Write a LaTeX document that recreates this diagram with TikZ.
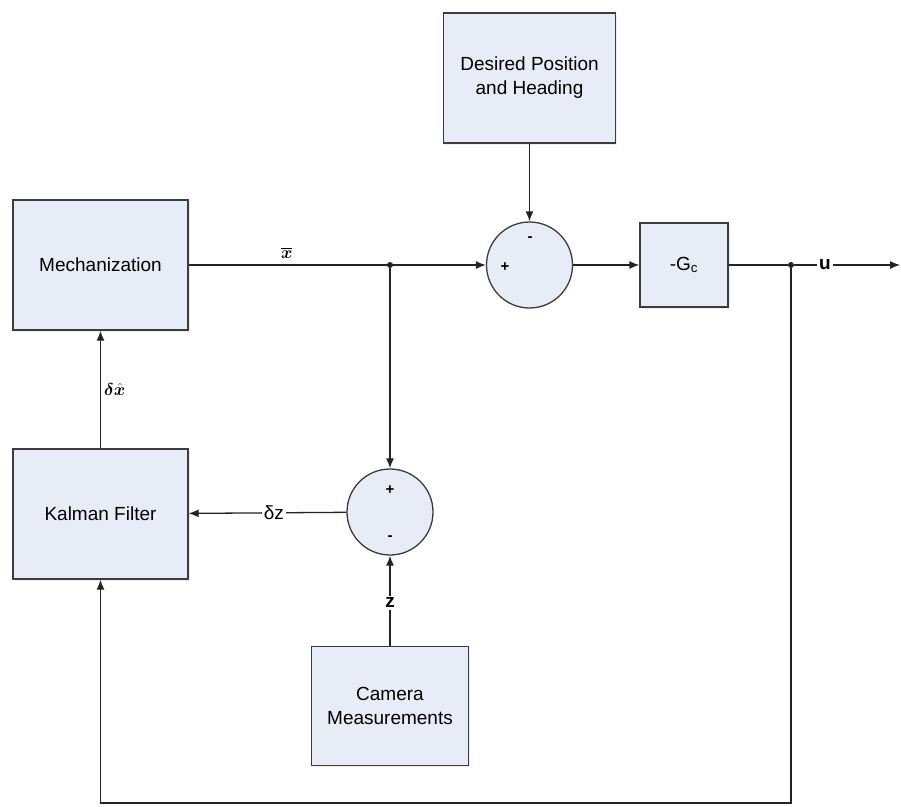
\documentclass[tikz,border=0pt]{standalone}
\usepackage{amsmath, bm}
\usepackage{fontspec}
\setmainfont{Liberation Sans}
\usepackage{tikz}
\usetikzlibrary{arrows.meta, shadows}

\definecolor{blkfill}{RGB}{232,236,247}
\definecolor{edgegray}{RGB}{60,60,60}
\definecolor{linegray}{RGB}{35,35,35}

\tikzset{
  blk/.style={draw=edgegray, fill=blkfill, line width=1.3pt, align=center,
    font=\fontsize{19}{24}\selectfont, inner sep=0pt,
    drop shadow={shadow xshift=1.5pt, shadow yshift=-1.5pt, fill=black!15}},
  sumblk/.style={circle, draw=edgegray, fill=blkfill, line width=1.3pt,
    minimum size=86pt, inner sep=0pt},
  sgn/.style={font=\fontsize{15}{15}\selectfont\bfseries, inner sep=0pt},
  lbl/.style={fill=white, inner sep=2pt, font=\fontsize{19}{19}\selectfont\bfseries},
  mathlbl/.style={inner sep=0pt, font=\fontsize{19}{19}\selectfont},
  dot/.style={circle, fill=linegray, minimum size=6pt, inner sep=0pt},
  wire/.style={draw=linegray, line width=1.3pt},
  >={Latex[length=10pt,width=8pt]}
}

\begin{document}
\begin{tikzpicture}[x=1pt, y=-1pt]
  \useasboundingbox (0,0) rectangle (901,806);

  % Nodes
  \node[blk, minimum width=175pt, minimum height=130pt] (mech) at (100.5,265) {Mechanization};
  \node[blk, minimum width=175pt, minimum height=130pt] (kalman) at (100.5,514) {Kalman Filter};
  \node[blk, minimum width=172pt, minimum height=130pt] (desired) at (529.5,78) {Desired Position\\and Heading};
  \node[blk, minimum width=157pt, minimum height=119pt] (camera) at (390,706) {Camera\\Measurements};
  \node[blk, minimum width=88pt, minimum height=84pt] (gain) at (684,265) {-G\textsubscript{c}};
  \node[sumblk] (sumpos) at (529.5,265) {};
  \node[sumblk] (summeas) at (390,512) {};

  % Signs
  \node[sgn] (plusa) at (505,267) {+};
  \node[sgn] (minusa) at (530,239) {-};
  \node[sgn] (plusb) at (390,490) {+};
  \node[sgn] (minusb) at (390,538) {-};

  % Branch points
  \node[dot] (branch) at (390,265) {};
  \node[dot] (junction) at (791,265) {};
  \coordinate (out) at (900,265);
  \coordinate (botright) at (791,803);
  \coordinate (botleft) at (100.5,803);

  % Arrows
  \draw[wire, ->] (mech) -- node[mathlbl, pos=0.33, above=6pt] (xbar) {$\bm{\overline{x}}$} (sumpos);
  \draw[wire, ->] (desired) -- (sumpos);
  \draw[wire, ->] (sumpos) -- (gain);
  \draw[wire] (gain) -- (junction);
  \draw[wire, ->] (junction) -- node[lbl, pos=0.29] (ulbl) {u} (out);
  \draw[wire, ->] (branch) -- (summeas);
  \draw[wire, ->] (camera) -- node[lbl, pos=0.48] (zlbl) {z} (summeas);
  \draw[wire, ->] (summeas) -- node[lbl, pos=0.46, font=\fontsize{19}{19}\selectfont] (dzlbl) {δz} (kalman);
  \draw[wire, ->] (kalman) -- node[mathlbl, right=3pt] (dxhat) {$\bm{\delta\hat{x}}$} (mech);
  \draw[wire, ->] (junction) -- (botright) -- (botleft) -- (kalman);

\end{tikzpicture}
\end{document}
